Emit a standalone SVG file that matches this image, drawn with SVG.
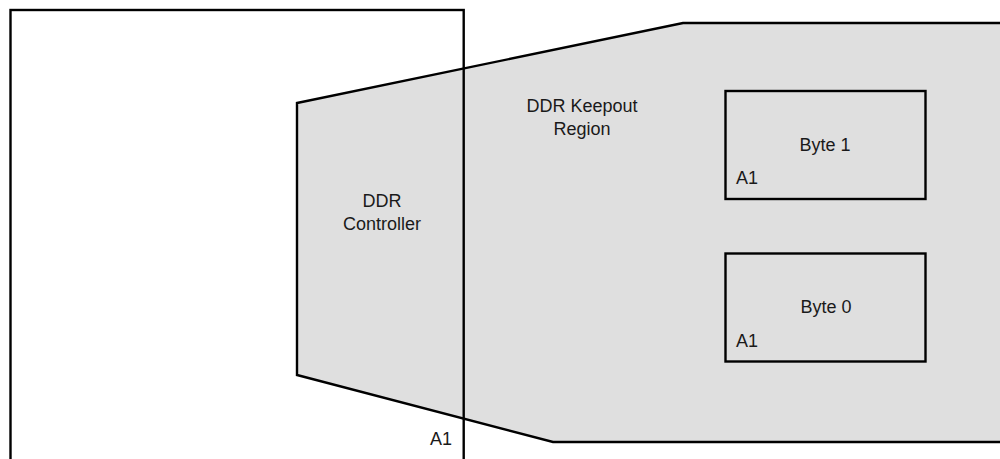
<svg xmlns="http://www.w3.org/2000/svg" width="1000" height="459" viewBox="0 0 1000 459">
<style>
  .shape { stroke: #000; stroke-width: 2.4; stroke-linejoin: miter; }
  .region { fill: #dfdfdf; }
  .box { fill: #dfdfdf; }
  .lbl { font-family: "Liberation Sans", Arial, sans-serif; font-size: 18px; fill: #1a1a1a; }
  .mid { text-anchor: middle; }
  .end { text-anchor: end; }
</style>
<rect width="1000" height="459" fill="#fff"/>
<g id="keepout-region">
  <polygon class="shape region" points="297,103 683,23 1010,23 1010,442 553,442 297,375"/>
  <text class="lbl mid" x="582" y="112">DDR Keepout</text>
  <text class="lbl mid" x="582" y="135">Region</text>
</g>
<g id="ddr-controller">
  <text class="lbl mid" x="382" y="207">DDR</text>
  <text class="lbl mid" x="382" y="230">Controller</text>
</g>
<g id="fabric-block">
  <rect class="shape" x="10.5" y="10" width="453.2" height="470" fill="none"/>
  <text class="lbl end" x="452" y="445">A1</text>
</g>
<g id="byte1">
  <rect class="shape box" x="725.5" y="91" width="200" height="108"/>
  <text class="lbl mid" x="825" y="151">Byte 1</text>
  <text class="lbl" x="736" y="184">A1</text>
</g>
<g id="byte0">
  <rect class="shape box" x="725.5" y="253.5" width="200" height="108"/>
  <text class="lbl mid" x="826" y="313">Byte 0</text>
  <text class="lbl" x="736" y="347">A1</text>
</g>
<g id="connectors"></g>
</svg>
